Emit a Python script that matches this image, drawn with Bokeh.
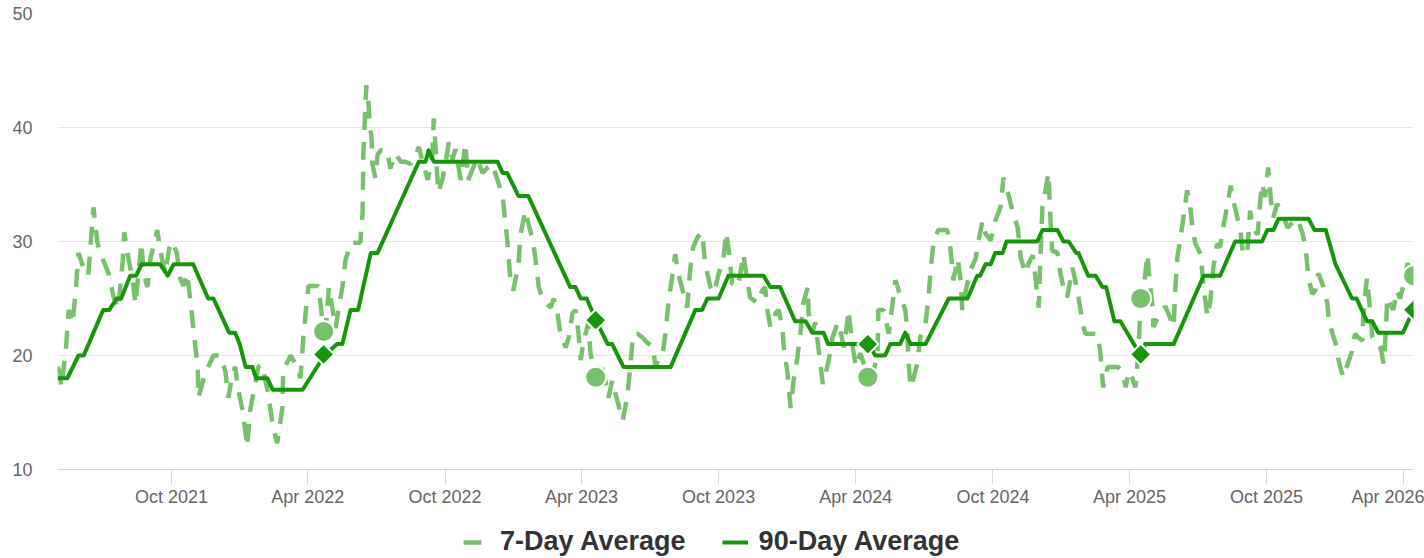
import numpy as np
import pandas as pd
from bokeh.plotting import figure
from bokeh.layouts import column
from bokeh.models import (Range1d, Legend, LegendItem, MonthsTicker,
                          DatetimeTickFormatter, FixedTicker)
from bokeh.embed import file_html
from bokeh.resources import INLINE

# ---------------- data ----------------
start_date = "2021-05-02"

ma7_day = [0, 3, 5, 11, 15, 20, 24, 28, 33, 41,
           48, 53, 57, 68, 75, 81, 87, 89, 95, 100,
           104, 108, 112, 115, 120, 124, 128, 133, 137, 140,
           144, 149, 153, 159, 164, 168, 173, 177, 181, 187,
           188, 195, 201, 208, 217, 224, 228, 233, 237, 241,
           247, 253, 257, 263, 268, 273, 280, 287, 293, 300,
           301, 311, 320, 324, 328, 333, 335, 348, 351, 355,
           358, 362, 367, 371, 376, 380, 384, 391, 404, 407,
           408, 412, 415, 416, 419, 420, 424, 427, 431, 440,
           444, 451, 458, 464, 471, 478, 482, 487, 494, 500,
           502, 506, 508, 514, 518, 522, 527, 531, 538, 544,
           548, 554, 560, 567, 574, 580, 587, 594, 600, 604,
           608, 615, 618, 624, 635, 640, 642, 648, 658, 662,
           667, 671, 678, 682, 687, 691, 695, 698, 702, 708,
           711, 718, 724, 731, 735, 740, 747, 754, 760, 764,
           768, 774, 780, 787, 794, 798, 802, 807, 811, 815,
           820, 824, 828, 834, 840, 844, 848, 854, 860, 864,
           871, 876, 882, 888, 892, 895, 900, 907, 911, 915,
           920, 924, 934, 940, 944, 947, 951, 958, 962, 967,
           969, 974, 978, 982, 987, 991, 995, 1001, 1002, 1007,
           1011, 1015, 1021, 1025, 1029, 1034, 1041, 1045, 1049, 1054,
           1055, 1061, 1065, 1071, 1082, 1089, 1094, 1095, 1102, 1109,
           1114, 1118, 1125, 1131, 1134, 1135, 1138, 1142, 1147, 1151,
           1158, 1162, 1165, 1169, 1175, 1187, 1191, 1194, 1195, 1201,
           1205, 1207, 1211, 1218, 1225, 1227, 1234, 1238, 1245, 1251,
           1258, 1262, 1269, 1274, 1281, 1285, 1291, 1295, 1301, 1305,
           1309, 1311, 1314, 1318, 1322, 1325, 1327, 1334, 1338, 1342,
           1347, 1354, 1358, 1362, 1367, 1371, 1378, 1387, 1391, 1395,
           1401, 1407, 1415, 1421, 1425, 1429, 1434, 1438, 1442, 1445,
           1449, 1454, 1457, 1461, 1462, 1467, 1474, 1478, 1485, 1489,
           1491, 1494, 1501, 1507, 1511, 1514, 1518, 1525, 1529, 1534,
           1538, 1542, 1547, 1551, 1555, 1561, 1565, 1569, 1574, 1578,
           1581, 1587, 1591, 1595, 1601, 1605, 1607, 1611, 1615, 1619,
           1622, 1627, 1634, 1641, 1645, 1654, 1661, 1665, 1667, 1669,
           1674, 1678, 1682, 1689, 1694, 1696, 1701, 1705, 1709, 1715,
           1722, 1727, 1731, 1735, 1741, 1742, 1745, 1747, 1751, 1754,
           1761, 1765, 1769, 1772, 1774, 1778, 1782, 1787, 1791, 1795,
           1801, 1809]

ma7_value = [19.0, 18.5, 17.2, 20.4, 24.0, 22.8, 25.4, 29.0, 28.0, 27.0,
             33.0, 30.0, 29.0, 27.2, 25.1, 24.1, 28.3, 30.8, 28.4, 26.7,
             24.5, 27.2, 29.9, 27.2, 26.0, 28.5, 29.6, 31.0, 29.3, 28.3,
             27.2, 29.4, 30.0, 29.0, 26.7, 26.1, 27.2, 25.0, 22.5, 19.0,
             16.3, 18.0, 19.0, 20.0, 20.0, 18.6, 16.3, 18.3, 19.0, 17.0,
             15.2, 12.0, 15.2, 17.2, 19.0, 19.2, 17.0, 14.0, 12.3, 15.4,
             18.7, 20.0, 19.0, 18.0, 21.6, 25.1, 26.1, 26.1, 24.5, 22.1,
             22.5, 26.0, 24.0, 22.4, 24.5, 26.0, 28.3, 29.9, 29.9, 32.6,
             37.6, 43.7, 42.0, 40.8, 39.0, 36.8, 35.6, 37.6, 38.0, 38.0,
             36.4, 37.7, 37.0, 37.0, 36.8, 37.6, 38.3, 37.0, 35.4, 37.6,
             40.8, 36.5, 34.3, 35.6, 37.0, 38.7, 37.2, 38.1, 35.4, 38.6,
             35.4, 36.4, 37.3, 36.0, 36.5, 36.8, 35.4, 33.9, 30.1, 26.8,
             25.7, 28.0, 30.7, 32.7, 29.8, 27.2, 26.0, 24.8, 24.2, 25.0,
             23.7, 21.9, 20.7, 21.6, 23.7, 24.0, 22.0, 19.6, 21.3, 22.8,
             20.2, 18.1, 19.5, 17.8, 16.3, 17.8, 16.0, 14.3, 16.3, 19.0,
             21.9, 21.9, 21.6, 21.1, 20.8, 19.0, 19.8, 20.0, 21.9, 24.6,
             26.9, 28.9, 27.2, 25.7, 24.2, 27.5, 29.5, 30.4, 30.8, 28.1,
             26.0, 25.5, 27.2, 28.3, 30.8, 29.5, 26.3, 26.0, 27.2, 28.9,
             26.6, 25.1, 24.6, 25.7, 26.0, 24.0, 22.5, 23.7, 24.0, 22.5,
             20.7, 18.4, 15.4, 17.8, 19.8, 21.9, 24.6, 26.0, 23.7, 22.0,
             22.9, 20.7, 17.5, 18.5, 19.6, 21.6, 22.9, 22.0, 20.7, 23.1,
             24.0, 20.7, 19.0, 20.2, 18.1, 18.7, 20.2, 24.0, 24.0, 21.9,
             24.6, 26.6, 25.1, 24.0, 22.0, 19.8, 17.2, 18.0, 19.3, 21.6,
             22.8, 25.1, 27.7, 30.1, 31.0, 31.0, 29.5, 27.5, 26.6, 28.5,
             26.5, 24.0, 25.5, 27.5, 28.5, 29.5, 31.8, 30.7, 30.1, 31.8,
             33.0, 35.6, 34.0, 32.7, 31.2, 28.6, 27.2, 28.0, 28.8, 26.6,
             24.2, 28.0, 33.0, 34.5, 36.0, 31.5, 29.2, 29.0, 27.2, 26.0,
             25.1, 27.7, 26.5, 25.1, 23.1, 21.9, 21.9, 21.9, 20.4, 17.2,
             19.0, 19.0, 19.0, 18.5, 17.2, 18.6, 18.0, 17.2, 20.2, 25.0,
             25.7, 28.9, 26.5, 24.2, 22.5, 23.2, 24.0, 24.3, 23.2, 22.5,
             25.7, 28.6, 31.6, 34.5, 33.2, 31.2, 29.8, 28.9, 26.0, 23.4,
             24.8, 27.7, 29.8, 29.5, 31.2, 33.3, 34.9, 33.5, 32.1, 31.0,
             29.2, 28.8, 32.7, 31.2, 30.6, 33.9, 35.1, 33.9, 36.5, 33.5,
             32.1, 33.3, 32.5, 31.2, 31.5, 32.0, 30.7, 29.5, 28.1, 26.8,
             25.4, 25.7, 27.2, 26.0, 24.6, 23.1, 21.9, 21.1, 19.6, 18.1,
             19.4, 20.4, 21.9, 21.6, 21.3, 23.5, 25.7, 26.8, 24.0, 21.6,
             21.3, 20.7, 19.3, 22.0, 25.1, 24.5, 24.0, 25.7, 25.0, 26.0,
             28.1, 27.0]

ma90_day = [0, 13, 28, 35, 61, 69, 79, 85, 97, 105,
            112, 137, 147, 155, 181, 201, 208, 229, 237, 243,
            251, 260, 265, 280, 287, 327, 356, 373, 380, 391,
            401, 418, 427, 482, 491, 495, 502, 587, 594, 600,
            615, 628, 684, 691, 698, 706, 719, 734, 740, 755,
            818, 851, 860, 867, 882, 895, 942, 951, 964, 984,
            998, 1007, 1022, 1028, 1082, 1091, 1104, 1111, 1124, 1131,
            1138, 1158, 1189, 1214, 1227, 1231, 1238, 1245, 1251, 1261,
            1266, 1307, 1314, 1334, 1342, 1349, 1359, 1362, 1375, 1385,
            1394, 1399, 1410, 1418, 1445, 1451, 1489, 1529, 1551, 1571,
            1607, 1614, 1622, 1629, 1669, 1677, 1692, 1705, 1727, 1733,
            1747, 1754, 1762, 1795, 1809]

ma90_value = [18, 18, 20, 20, 24, 24, 25, 25, 27, 27,
              28, 28, 27, 28, 28, 25, 25, 22, 22, 21,
              19, 19, 18, 18, 17, 17, 20, 21, 21, 24,
              24, 29, 29, 37, 37, 38, 37, 37, 36, 36,
              34, 34, 26, 26, 25, 25, 23, 21, 21, 19,
              19, 24, 24, 25, 25, 27, 27, 26, 26, 23,
              23, 22, 22, 21, 21, 20, 20, 21, 21, 22,
              21, 21, 25, 25, 27, 27, 28, 28, 29, 29,
              30, 30, 31, 31, 30, 30, 29, 29, 27, 27,
              26, 26, 23, 23, 20, 21, 21, 27, 27, 30,
              30, 31, 31, 32, 32, 31, 31, 28, 25, 25,
              23, 23, 22, 22, 24]

marker_day = [355, 718, 1081, 1445, 1809]
marker_ma7 = [22.1, 18.1, 18.1, 25.0, 27.0]
marker_ma90 = [20.1, 23.1, 21.0, 20.1, 24.0]

y_ticks = [10, 20, 30, 40, 50]
series_names = ["7-Day Average", "90-Day Average"]

# ---------------- build ----------------
t0 = pd.Timestamp(start_date)
to_dates = lambda days: [t0 + pd.Timedelta(days=d) for d in days]
ma7_x = to_dates(ma7_day)
ma90_x = to_dates(ma90_day)
mk_x = to_dates(marker_day)

LIGHT = "#78c16c"
DARK = "#17960b"
DASH = "18 12"

p = figure(width=1424, height=515, x_axis_type="datetime",
           output_backend="svg", toolbar_location=None,
           x_range=Range1d(ma7_x[0], ma7_x[-1]), y_range=Range1d(10, 50),
           min_border_left=57, min_border_right=11, min_border_top=13,
           min_border_bottom=46)
p.outline_line_color = None
p.background_fill_color = "white"
p.border_fill_color = "white"

p.line(ma7_x, ma7_value, line_color=LIGHT, line_width=4.5, line_dash=DASH)
p.line(ma90_x, ma90_value, line_color=DARK, line_width=4, line_join="round")
p.scatter(mk_x, marker_ma7, marker="circle", size=21, fill_color=LIGHT,
          line_color="white", line_width=2)
p.scatter(mk_x, marker_ma90, marker="square", angle=np.pi / 4, size=15,
          fill_color=DARK, line_color="white", line_width=2)

# axes
p.xgrid.grid_line_color = None
p.ygrid.grid_line_color = "#e6e6e6"
p.ygrid.grid_line_width = 1
p.yaxis.ticker = FixedTicker(ticks=y_ticks)
p.yaxis.axis_line_color = None
p.yaxis.major_tick_line_color = None
p.yaxis.minor_tick_line_color = None
p.yaxis.major_tick_out = 0
p.yaxis.major_tick_in = 0
p.yaxis.major_label_standoff = 25
p.yaxis.major_label_text_font = "Liberation Sans"
p.yaxis.major_label_text_font_size = "18px"
p.yaxis.major_label_text_color = "#666666"

p.xaxis.ticker = MonthsTicker(months=[3, 9])
p.xaxis.formatter = DatetimeTickFormatter(months="%b %Y", days="%b %Y",
                                          years="%b %Y")
p.xaxis.axis_line_color = "#ccd6eb"
p.xaxis.major_tick_line_color = "#ccd6eb"
p.xaxis.major_tick_out = 15
p.xaxis.major_tick_in = 0
p.xaxis.minor_tick_line_color = None
p.xaxis.major_label_standoff = 2
p.xaxis.major_label_text_font = "Liberation Sans"
p.xaxis.major_label_text_font_size = "18px"
p.xaxis.major_label_text_color = "#666666"

# legend strip below the chart (its frame is aligned with the chart's frame)
lg = figure(width=1424, height=43, output_backend="svg",
            toolbar_location=None, x_range=Range1d(0, 1),
            y_range=Range1d(0, 1), x_axis_type=None, y_axis_type=None,
            min_border=0)
lg.outline_line_color = None
lg.grid.grid_line_color = None
k7 = lg.line([-5, -4], [-5, -4], line_color=LIGHT, line_width=4.5,
             line_dash=DASH)
k90 = lg.line([-5, -4], [-5, -4], line_color=DARK, line_width=4)

legend = Legend(items=[LegendItem(label=series_names[0], renderers=[k7]),
                       LegendItem(label=series_names[1], renderers=[k90])],
                orientation="horizontal", location=(406, 1),
                padding=0, margin=0, spacing=36, label_standoff=11,
                glyph_width=26, glyph_height=28, label_height=28,
                label_text_font="Liberation Sans",
                label_text_font_size="27px", label_text_font_style="bold",
                label_text_color="#333333", border_line_color=None,
                background_fill_alpha=0)
lg.add_layout(legend, "center")

layout = column(p, lg, spacing=0)
open("out.html", "w").write(file_html(layout, INLINE))
